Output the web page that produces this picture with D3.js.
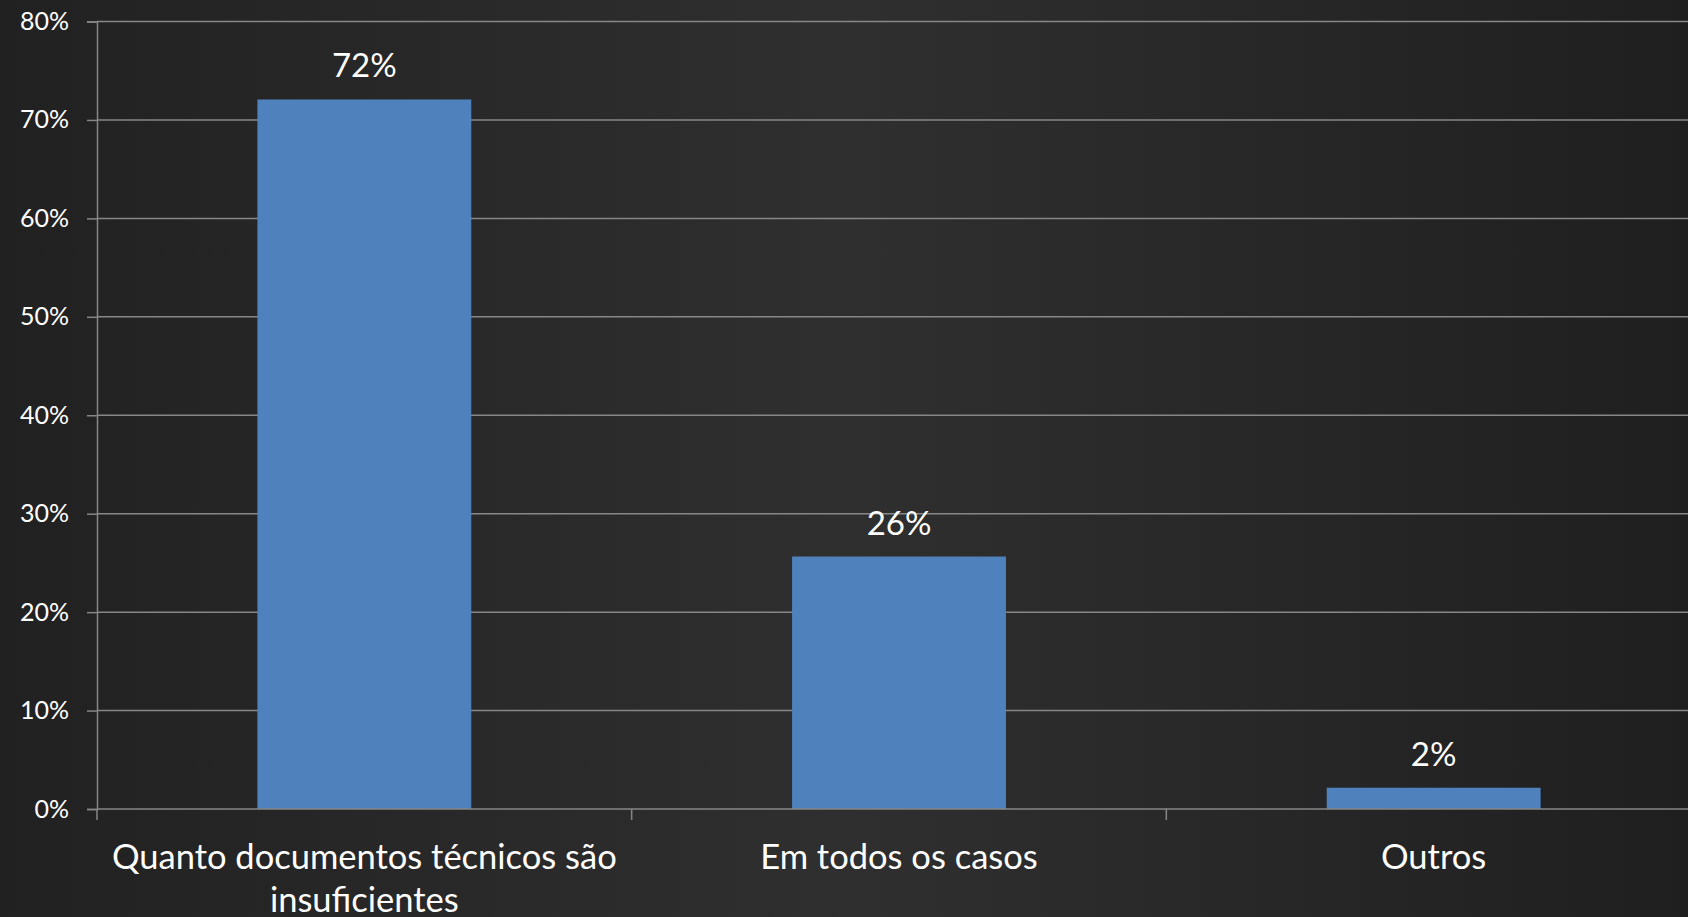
<!DOCTYPE html>
<html>
<head>
<meta charset="utf-8">
<script src="https://cdn.jsdelivr.net/npm/d3@7/dist/d3.min.js"></script>
<style>
  html, body { margin: 0; padding: 0; background: #262626; overflow: hidden; }
  svg { display: block; }
  text { font-family: Lato, "Open Sans", sans-serif; fill: #ffffff; }
</style>
</head>
<body>
<svg id="chart" width="1688" height="917"></svg>
<script>
const categories = ["Quanto documentos técnicos são insuficientes", "Em todos os casos", "Outros"];
const values = [0.7208, 0.2565, 0.0216];
const yTicks = [0, 0.1, 0.2, 0.3, 0.4, 0.5, 0.6, 0.7, 0.8];

const W = 1688, H = 917;
const margin = { left: 97, right: -13, top: 21.5, bottom: 108 };

const svg = d3.select("#chart");

// Background gradient
const defs = svg.append("defs");
const grad = defs.append("linearGradient").attr("id", "bg").attr("x1", "0").attr("x2", "1").attr("y1", "0").attr("y2", "0");
grad.append("stop").attr("offset", "0%").attr("stop-color", "#212121");
grad.append("stop").attr("offset", "50%").attr("stop-color", "#2f2f2f");
grad.append("stop").attr("offset", "100%").attr("stop-color", "#1f1f1f");
svg.append("rect").attr("width", W).attr("height", H).attr("fill", "url(#bg)");

const x = d3.scaleBand()
  .domain(categories)
  .range([margin.left, W - margin.right])
  .paddingInner(0.6)
  .paddingOuter(0.3);

const y = d3.scaleLinear()
  .domain([0, 0.8])
  .range([H - margin.bottom, margin.top]);

const gridColor = "#878787";

// Y axis with gridlines
const yAxis = d3.axisLeft(y)
  .tickValues(yTicks)
  .tickFormat(d3.format(".0%"))
  .tickSize(10)
  .tickPadding(18);

const gy = svg.append("g").attr("transform", `translate(${margin.left},0)`).call(yAxis);
gy.select(".domain").attr("stroke", gridColor).attr("stroke-width", 1.5);
gy.selectAll(".tick line").attr("stroke", gridColor).attr("stroke-width", 1.5);
gy.selectAll(".tick text")
  .attr("fill", "#ffffff")
  .style("font-size", "25px")
  .style("font-family", "Lato, 'Open Sans', sans-serif");

// gridlines
svg.append("g")
  .selectAll("line")
  .data(yTicks.filter(d => d > 0))
  .join("line")
  .attr("x1", margin.left)
  .attr("x2", W)
  .attr("y1", d => y(d))
  .attr("y2", d => y(d))
  .attr("stroke", gridColor)
  .attr("stroke-width", 1.5);

// Bars
svg.append("g")
  .selectAll("rect")
  .data(categories)
  .join("rect")
  .attr("x", d => x(d))
  .attr("width", x.bandwidth())
  .attr("y", (d, i) => y(values[i]))
  .attr("height", (d, i) => y(0) - y(values[i]))
  .attr("fill", "#4f81bd");

// X axis baseline + boundary ticks
const step = x.step();
const x0 = margin.left;
svg.append("line")
  .attr("x1", margin.left).attr("x2", W)
  .attr("y1", y(0)).attr("y2", y(0))
  .attr("stroke", gridColor).attr("stroke-width", 1.5);
svg.append("g")
  .selectAll("line")
  .data(d3.range(categories.length + 1))
  .join("line")
  .attr("x1", i => x0 + i * step)
  .attr("x2", i => x0 + i * step)
  .attr("y1", y(0))
  .attr("y2", y(0) + 11)
  .attr("stroke", gridColor)
  .attr("stroke-width", 1.5);

// Value labels
svg.append("g")
  .selectAll("text")
  .data(categories)
  .join("text")
  .attr("x", d => x(d) + x.bandwidth() / 2)
  .attr("y", (d, i) => y(values[i]) - 22)
  .attr("text-anchor", "middle")
  .style("font-size", "33px")
  .text((d, i) => d3.format(".0%")(values[i]));

// Category labels with wrapping
const catG = svg.append("g");
categories.forEach(c => {
  const t = catG.append("text")
    .attr("x", x(c) + x.bandwidth() / 2)
    .attr("y", y(0) + 60)
    .attr("text-anchor", "middle")
    .style("font-size", "34.5px");
  const words = c.split(" ");
  let line = [];
  let tspan = t.append("tspan").attr("x", x(c) + x.bandwidth() / 2).attr("dy", 0);
  const maxW = step - 16;
  words.forEach(w => {
    line.push(w);
    tspan.text(line.join(" "));
    if (tspan.node().getComputedTextLength() > maxW && line.length > 1) {
      line.pop();
      tspan.text(line.join(" "));
      line = [w];
      tspan = t.append("tspan").attr("x", x(c) + x.bandwidth() / 2).attr("dy", 43).text(w);
    }
  });
});
</script>
</body>
</html>
